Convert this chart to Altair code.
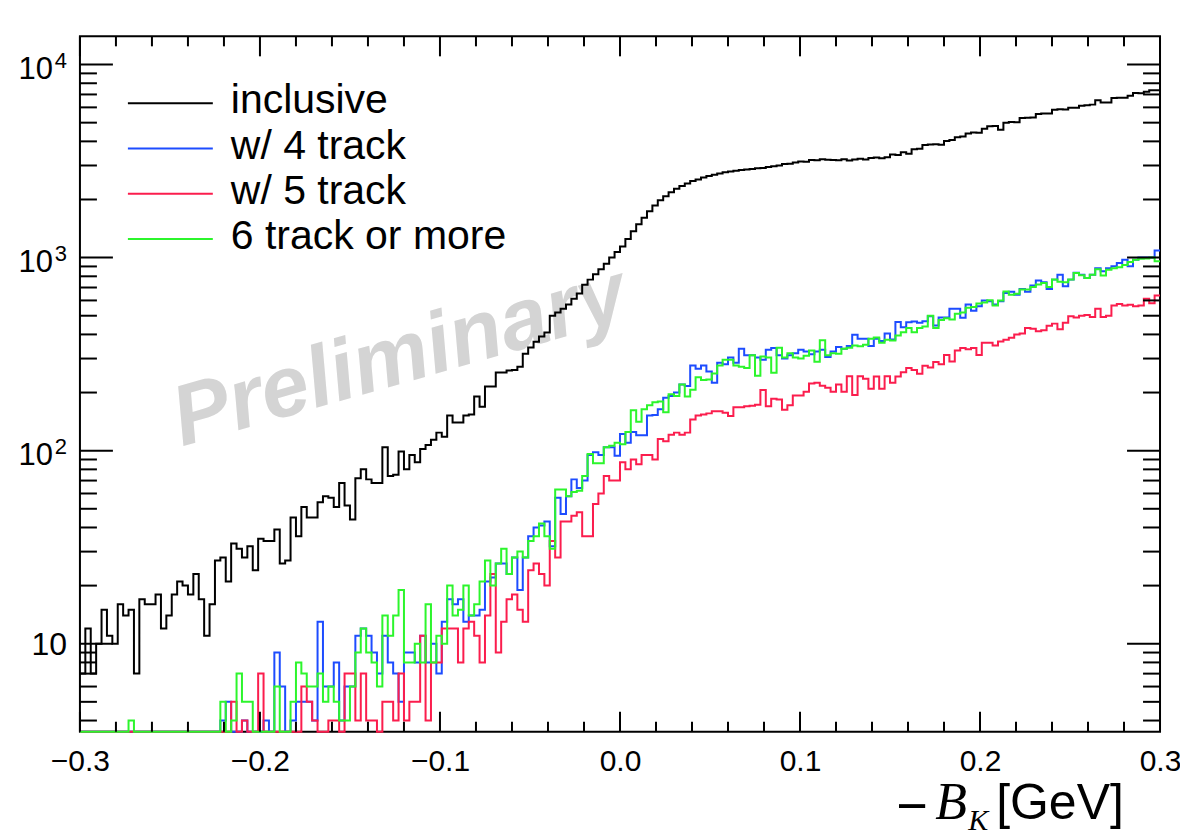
import altair as alt
import pandas as pd

# ---------------- data ----------------
X_MIN, X_MAX, NBINS = -0.3, 0.3, 200

series_names = ["inclusive", "w/ 4 track", "w/ 5 track", "6 track or more"]
series_colors = ["#000000", "#1d4cff", "#fb1d4d", "#2cf52c"]

inclusive = [
    7, 12, 7, 10, 15, 11, 10, 16, 14, 15, 7, 17, 16, 16, 18, 12, 14, 18, 21, 20, 18, 23, 17, 11, 16,
    27, 28, 21, 33, 31, 28, 32, 24, 35, 34, 34, 39, 26, 27, 45, 36, 51, 45, 45, 54, 58, 57, 51, 68, 52,
    44, 72, 80, 71, 68, 68, 104, 74, 75, 99, 80, 95, 87, 102, 107, 114, 124, 118, 152, 140, 140, 152, 154, 191, 169,
    215, 215, 254, 254, 260, 262, 272, 318, 342, 367, 390, 409, 500, 519, 544, 571, 613, 651, 724, 769, 820, 870, 930, 1000, 1070,
    1140, 1250, 1370, 1490, 1610, 1740, 1860, 1980, 2080, 2180, 2270, 2350, 2420, 2490, 2540, 2600, 2650, 2690, 2730, 2770, 2790, 2820, 2840, 2860, 2880,
    2900, 2910, 2950, 2970, 3000, 3050, 3060, 3110, 3150, 3140, 3200, 3190, 3230, 3210, 3200, 3190, 3230, 3180, 3220, 3250, 3220, 3280, 3300, 3270, 3310,
    3420, 3400, 3515, 3450, 3640, 3660, 3830, 3850, 3870, 3840, 4020, 4060, 4200, 4240, 4400, 4440, 4430, 4650, 4790, 4800, 4600, 5000, 5040, 5020, 5280,
    5300, 5320, 5550, 5580, 5570, 5830, 5860, 5850, 5970, 5980, 6120, 6150, 6200, 6530, 6350, 6360, 6700, 6720, 6730, 6900, 7130, 7100, 7220, 7350, 7370,
]

track4 = [1] * 26 + [
    4, 5, 1, 1, 4, 1, 1, 1, 4, 1,
    9, 6, 1, 4, 5, 5, 5, 4, 13, 6,
    6, 8, 4, 6, 6, 11, 12, 11, 9, 7,
    11, 8, 7, 5, 9, 9, 8, 11, 8, 10,
    7, 13, 17, 16, 17, 13, 14, 14, 15, 21,
    22, 26, 26, 23, 28, 19, 28, 36, 40, 41,
    43, 32, 57, 47, 58, 71, 64, 70, 95, 98,
    95, 104, 104, 94, 122, 110, 125, 120, 120, 152,
    153, 164, 188, 192, 200, 220, 216, 276, 266, 276,
    257, 225, 285, 280, 304, 285, 337, 312, 312, 304,
    296, 333, 340, 312, 300, 312, 320, 333, 326, 316,
    326, 333, 306, 326, 344, 337, 348, 398, 380, 380,
    348, 380,
    370, 405, 376, 464, 436, 462, 466, 460, 468, 497,
    445, 490, 490, 543, 543, 488, 572, 530, 560, 600,
    595, 571, 595, 655, 665, 643, 687, 665, 716, 760,
    745, 687, 769, 814, 711, 769, 834, 814, 785, 814,
    880, 849, 880, 902, 938, 975, 902, 975, 1000, 1000,
    1000, 1090,
]

track5 = [1] * 28 + [
    5, 1, 4, 1, 1, 7, 1, 1, 1, 1, 1, 1, 1,
    6, 5, 4, 1, 1, 4, 4, 1, 7, 7, 4, 7, 4, 4, 1,
    5, 5, 4, 7, 4, 5, 5, 11, 4, 8,
    8, 12, 12, 12, 8, 12, 13, 11, 8, 14,
    23, 9, 13, 17, 18, 15, 13, 24, 26, 23,
    20, 34, 28, 43, 43, 46, 48, 36, 36, 53,
    60, 74, 70, 70, 87, 80, 90, 85, 95, 95,
    90, 115, 112, 121, 124, 121, 124, 145, 152, 154,
    156, 160, 160, 157, 151, 168, 168, 170, 171, 173,
    206, 170, 186, 184, 163, 172, 193, 193, 202, 223,
    225, 217, 212, 202, 220, 202, 243, 194, 243, 236,
    209, 242,
    209, 243, 225, 242, 255, 268, 262, 250, 275, 270,
    288, 280, 313, 290, 330, 340, 335, 340, 313, 362,
    362, 350, 368, 375, 385, 400, 405, 432, 428, 415,
    420, 443, 455, 425, 460, 497, 490, 500, 505, 492,
    543, 492, 500, 565, 575, 565, 570, 560, 565, 612,
    580, 636,
]

track6 = [1] * 9 + [4] + [1] * 16 + [
    5, 1, 4, 7, 5, 5, 1, 1, 1, 1,
    6, 1, 1, 5, 8, 7, 6, 6, 7, 5,
    6, 5, 4, 4, 6, 9, 12, 9, 8, 6,
    14, 11, 14, 19, 8, 8, 10, 8, 16, 8,
    11, 10, 20, 14, 15, 20, 14, 16, 21, 27,
    20, 26, 31, 23, 28, 30, 28, 34, 36, 42,
    36, 31, 63, 63, 58, 61, 62, 74, 96, 86,
    86, 104, 106, 110, 108, 125, 162, 141, 164, 172,
    178, 180, 158, 196, 192, 220, 191, 207, 240, 232,
    234, 251, 276, 296, 296, 276, 272, 268, 312, 244,
    307, 304, 253, 341, 304, 320, 304, 300, 310, 330,
    289, 373, 312, 320, 318, 337, 341, 350, 347, 354,
    380, 386,
    362, 375, 372, 395, 410, 432, 410, 432, 440, 500,
    432, 475, 485, 478, 512, 520, 550, 555, 578, 585,
    601, 564, 600, 667, 643, 650, 683, 683, 705, 725,
    739, 705, 770, 750, 745, 770, 832, 810, 785, 814,
    870, 808, 865, 880, 890, 915, 948, 975, 985, 990,
    1000, 957,
]

x_major = [-0.3, -0.2, -0.1, 0.0, 0.1, 0.2, 0.3]
x_minor = [-0.28, -0.26, -0.24, -0.22, -0.18, -0.16, -0.14, -0.12,
           -0.08, -0.06, -0.04, -0.02, 0.02, 0.04, 0.06, 0.08,
           0.12, 0.14, 0.16, 0.18, 0.22, 0.24, 0.26, 0.28]
y_major = [10, 100, 1000, 10000]
y_minor = [4, 5, 6, 7, 8, 9, 20, 30, 40, 50, 60, 70, 80, 90,
           200, 300, 400, 500, 600, 700, 800, 900,
           2000, 3000, 4000, 5000, 6000, 7000, 8000, 9000]
y_label_exp_values = [100, 1000, 10000]
y_label_exps = ["2", "3", "4"]

# ---------------- layout ----------------
W, H = 1081, 696
FONT = "Liberation Sans"

bin_w = (X_MAX - X_MIN) / NBINS
all_series = [inclusive, track4, track5, track6]

xs = alt.Scale(domain=[X_MIN, X_MAX], nice=False, zero=False)
ys = alt.Scale(type="log", domain=[3.5, 14000], nice=False, clamp=True)

xaxis = alt.Axis(values=x_major, format=".1f", ticks=False, domain=False, grid=False,
                 labelFontSize=30, labelFont=FONT, labelColor="black", labelPadding=15,
                 labelFlush=False, title=None)

layers = []

# watermark
layers.append(
    alt.Chart(pd.DataFrame({"t": ["Preliminary"]})).mark_text(
        font=FONT, fontSize=86, fontWeight="bold", fontStyle="italic", color="#d4d4d4",
        angle=344, align="center", baseline="middle"
    ).encode(text="t:N", x=alt.value(320), y=alt.value(321))
)

# histograms (step lines)
for name, color, vals in zip(series_names, series_colors, all_series):
    rows = [{"x": round(X_MIN + i * bin_w, 6), "count": v, "o": i} for i, v in enumerate(vals)]
    rows.append({"x": X_MAX, "count": vals[-1], "o": len(vals)})
    df = pd.DataFrame(rows)
    layers.append(
        alt.Chart(df).mark_line(interpolate="step-after", strokeWidth=2, color=color).encode(
            x=alt.X("x:Q", scale=xs, axis=xaxis),
            y=alt.Y("count:Q", scale=ys, axis=None),
            order="o:Q",
        )
    )

# x ticks (bottom & top, inward)
def xticks(vals, length):
    d = pd.DataFrame({"x": vals})
    bottom = alt.Chart(d).mark_rule(color="black", strokeWidth=2).encode(
        x=alt.X("x:Q", scale=xs, axis=xaxis), y=alt.value(H), y2=alt.value(H - length))
    top = alt.Chart(d).mark_rule(color="black", strokeWidth=2).encode(
        x=alt.X("x:Q", scale=xs, axis=xaxis), y=alt.value(0), y2=alt.value(length))
    return [bottom, top]

def yticks(vals, length):
    d = pd.DataFrame({"count": vals})
    left = alt.Chart(d).mark_rule(color="black", strokeWidth=2).encode(
        y=alt.Y("count:Q", scale=ys, axis=None), x=alt.value(0), x2=alt.value(length))
    right = alt.Chart(d).mark_rule(color="black", strokeWidth=2).encode(
        y=alt.Y("count:Q", scale=ys, axis=None), x=alt.value(W), x2=alt.value(W - length))
    return [left, right]

layers += xticks(x_major, 20) + xticks(x_minor, 10)
layers += yticks(y_major, 33) + yticks(y_minor, 17)

# y labels: "10" and 10^n with superscript
layers.append(
    alt.Chart(pd.DataFrame({"count": [10], "t": ["10"]})).mark_text(
        font=FONT, fontSize=32, align="right", baseline="middle", color="black", dy=1
    ).encode(y=alt.Y("count:Q", scale=ys, axis=None), x=alt.value(-13), text="t:N")
)
layers.append(
    alt.Chart(pd.DataFrame({"count": y_label_exp_values, "t": ["10"] * 3})).mark_text(
        font=FONT, fontSize=31, align="right", baseline="middle", color="black", dy=5
    ).encode(y=alt.Y("count:Q", scale=ys, axis=None), x=alt.value(-27), text="t:N")
)
layers.append(
    alt.Chart(pd.DataFrame({"count": y_label_exp_values, "t": y_label_exps})).mark_text(
        font=FONT, fontSize=22, align="right", baseline="middle", color="black", dy=-4
    ).encode(y=alt.Y("count:Q", scale=ys, axis=None), x=alt.value(-13), text="t:N")
)

# legend (custom, in plot coordinates)
leg = pd.DataFrame({"series": series_names, "idx": list(range(len(series_names)))})
color_scale = alt.Scale(domain=series_names, range=series_colors)
leg_base = alt.Chart(leg).transform_calculate(py="67 + 45.3 * datum.idx", ty="77 + 45.3 * datum.idx")
layers.append(
    leg_base.mark_rule(strokeWidth=2).encode(
        x=alt.value(48), x2=alt.value(133), y=alt.Y("py:Q", scale=None),
        color=alt.Color("series:N", scale=color_scale, legend=None))
)
layers.append(
    leg_base.mark_text(font=FONT, fontSize=41, align="left", baseline="alphabetic", color="black").encode(
        x=alt.value(151), y=alt.Y("ty:Q", scale=None), text="series:N")
)

# x title: −B_K[GeV]
def label(txt, x, y, size, font=FONT, style="normal"):
    return alt.Chart(pd.DataFrame({"t": [txt]})).mark_text(
        font=font, fontSize=size, fontStyle=style, align="left", baseline="alphabetic", color="black"
    ).encode(text="t:N", x=alt.value(x), y=alt.value(y))

layers.append(label("\u2212", 817, 788, 54))
layers.append(label("B", 856, 783, 52, font="Liberation Serif", style="italic"))
layers.append(label("K", 889, 794, 30, font="Liberation Serif", style="italic"))
layers.append(label("[GeV]", 917, 783, 50))

chart = alt.layer(*layers).properties(
    width=W, height=H,
    autosize=alt.AutoSizeParams(type="none"),
    padding={"left": 72, "top": 28, "right": 20, "bottom": 112},
    background="white",
).configure_view(stroke="black", strokeWidth=2)

chart.save("out.html", embed_options={"renderer": "svg", "actions": False})
